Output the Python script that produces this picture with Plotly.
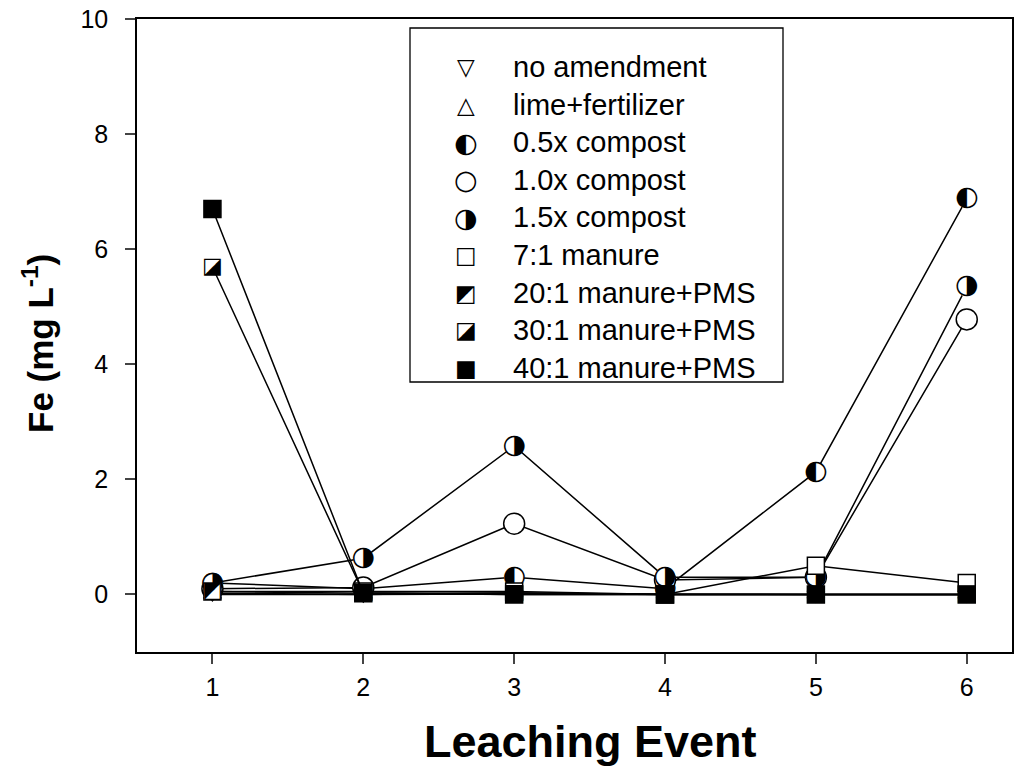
import plotly.graph_objects as go

# Leaching events and Fe concentrations (mg/L) for each soil treatment
events = [1, 2, 3, 4, 5, 6]

no_amendment = [0.02, 0.00, 0.01, 0.00, 0.00, 0.00]
lime_fertilizer = [0.00, 0.00, 0.03, 0.00, 0.00, 0.00]
compost_05x = [0.20, 0.10, 0.30, 0.10, 2.13, 6.88]
compost_10x = [0.10, 0.12, 1.23, 0.25, 0.30, 4.78]
compost_15x = [0.20, 0.63, 2.58, 0.30, 0.30, 5.35]
manure_7_1 = [0.05, 0.05, 0.05, 0.00, 0.50, 0.20]
manure_20_1 = [0.05, 0.02, 0.02, 0.00, 0.00, 0.00]
manure_30_1 = [5.69, 0.03, 0.00, 0.00, 0.00, 0.00]
manure_40_1 = [6.70, 0.02, 0.00, 0.00, 0.00, 0.00]

series_names = ["no amendment", "lime+fertilizer", "0.5x compost", "1.0x compost",
                "1.5x compost", "7:1 manure", "20:1 manure+PMS", "30:1 manure+PMS",
                "40:1 manure+PMS"]
series_values = [no_amendment, lime_fertilizer, compost_05x, compost_10x, compost_15x,
                 manure_7_1, manure_20_1, manure_30_1, manure_40_1]

y_ticks = [0, 2, 4, 6, 8, 10]

# symbol style per series: (plotly marker, marker size, fill, overlay glyph or None)
styles = [
    ("triangle-down", 15, "white", None),
    ("triangle-up", 15, "white", None),
    ("circle", 20, "white", "\u25D0"),
    ("circle", 21, "white", None),
    ("circle", 20, "white", "\u25D1"),
    ("square", 17, "white", None),
    ("square", 16, "white", "\u25E9"),
    ("square", 16, "white", "\u25EA"),
    ("square", 17, "black", None),
]
legend_glyphs = ["\u25BD", "\u25B3", "\u25D0", "\u25CB", "\u25D1", "\u25A1", "\u25E9", "\u25EA", "\u25A0"]

GLYPH_FONT = "DejaVu Sans"
TEXT_FONT = "Arial, Liberation Sans, Helvetica, sans-serif"

fig = go.Figure()
for name, vals, (sym, size, fill, glyph) in zip(series_names, series_values, styles):
    fig.add_trace(go.Scatter(
        x=events, y=vals, mode="lines+markers", name=name, showlegend=False,
        line=dict(color="black", width=1.5),
        marker=dict(symbol=sym, size=size, color=fill,
                    line=dict(color="black", width=0 if glyph else 1.5)),
    ))
    if glyph:
        fig.add_trace(go.Scatter(
            x=events, y=vals, mode="text", text=[glyph] * len(events),
            textposition="middle center", showlegend=False, hoverinfo="skip",
            textfont=dict(family=GLYPH_FONT, size=27 if "compost" in name else 22, color="black"),
        ))

# Plot-area geometry in pixels, used to place the legend box and titles
L, T, W, H = 137, 19, 875, 633


def px_x(p):
    return (p - L) / W


def px_y(p):
    return (T + H - p) / H


fig.add_shape(type="rect", xref="paper", yref="paper",
              x0=px_x(410), x1=px_x(783), y0=px_y(382), y1=px_y(28),
              line=dict(color="black", width=1.3), fillcolor="white", layer="above")

row0, row_step = 67, 37.6
for i, (name, g) in enumerate(zip(series_names, legend_glyphs)):
    yy = px_y(row0 + i * row_step)
    gsize = 23 if i in (0, 1, 5, 6, 7, 8) else 27
    fig.add_annotation(xref="paper", yref="paper", x=px_x(466), y=yy, text=g,
                       showarrow=False, xanchor="center", yanchor="middle",
                       font=dict(family=GLYPH_FONT, size=gsize, color="black"))
    fig.add_annotation(xref="paper", yref="paper", x=px_x(511), y=yy, text=name,
                       showarrow=False, xanchor="left", yanchor="middle",
                       font=dict(family=TEXT_FONT, size=29, color="black"))

# Axis titles
fig.add_annotation(xref="paper", yref="paper", x=px_x(590), y=px_y(741),
                   text="<b>Leaching Event</b>", showarrow=False,
                   xanchor="center", yanchor="middle",
                   font=dict(family=TEXT_FONT, size=45, color="black"))
fig.add_annotation(xref="paper", yref="paper", x=px_x(38), y=px_y(344),
                   text="<b>Fe (mg L<sup>-1</sup>)</b>", showarrow=False, textangle=-90,
                   xanchor="center", yanchor="middle",
                   font=dict(family=TEXT_FONT, size=35, color="black"))

fig.update_layout(
    width=1032, height=776,
    margin=dict(l=L, r=1032 - L - W, t=T, b=776 - T - H, autoexpand=False),
    paper_bgcolor="white", plot_bgcolor="white",
    font=dict(family=TEXT_FONT, size=25, color="black"),
    xaxis=dict(
        range=[0.5, 6.3], tickvals=events, ticks="outside", ticklen=10, tickwidth=1.5,
        showline=True, linecolor="black", linewidth=1.5, mirror=True, automargin=False,
        showgrid=False, zeroline=False, tickfont=dict(size=25), ticklabelstandoff=2,
    ),
    yaxis=dict(
        range=[-1, 10], tickvals=y_ticks, ticks="outside", ticklen=10, tickwidth=1.5,
        showline=True, linecolor="black", linewidth=1.5, mirror=True, automargin=False,
        showgrid=False, zeroline=False, tickfont=dict(size=25), ticklabelstandoff=12,
    ),
)

fig.write_html("out.html")
